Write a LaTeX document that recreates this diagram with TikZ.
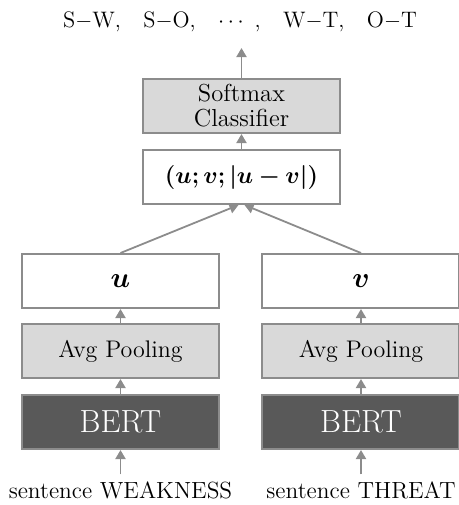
\documentclass[tikz,border=0pt]{standalone}
\usepackage{amsmath,bm}
\usetikzlibrary{arrows.meta, positioning}
\definecolor{edgegray}{RGB}{140,140,140}
\definecolor{poolgray}{RGB}{217,217,217}
\definecolor{bertgray}{RGB}{89,89,89}

\begin{document}
\begin{tikzpicture}[
  x=0.5pt, y=-0.5pt,
  box/.style={draw=edgegray, line width=1pt, minimum width=98.5pt, minimum height=27pt, align=center, inner sep=0pt},
  arrow/.style={-{Triangle[length=4.5pt, width=5pt]}, draw=edgegray, line width=0.9pt},
  label/.style={font=\fontsize{11.7}{14}\selectfont}
]
\useasboundingbox (0,0) rectangle (459,505);

% Classifier head
\node[box, fill=poolgray, font=\fontsize{12.3}{12.5}\selectfont] (softmax) at (241.5,106) {Softmax\\Classifier};
\node[box, fill=white, below=7.5pt of softmax, font=\fontsize{12.6}{15}\selectfont] (concat) {$\bm{(u;v;|u-v|)}$};
\node[label, font=\fontsize{11.2}{14}\selectfont] (pairs) at (240,22) {S$-$W,\quad S$-$O,\quad $\cdots$ ,\quad W$-$T,\quad O$-$T};

% Left branch (WEAKNESS)
\node[box, fill=white, font=\fontsize{13.5}{15}\selectfont] (uvec) at (120.5,281) {$\bm{u}$};
\node[box, fill=poolgray, below=7pt of uvec, font=\fontsize{12}{14}\selectfont] (lpool) {Avg Pooling};
\node[box, fill=bertgray, text=white, below=7.5pt of lpool, font=\fontsize{16}{18}\selectfont] (lbert) {BERT};
\node[label] (lsent) at (120.5,490) {sentence WEAKNESS};

% Right branch (THREAT)
\node[box, fill=white, font=\fontsize{13.5}{15}\selectfont] (vvec) at (361,281) {$\bm{v}$};
\node[box, fill=poolgray, below=7pt of vvec, font=\fontsize{12}{14}\selectfont] (rpool) {Avg Pooling};
\node[box, fill=bertgray, text=white, below=7.5pt of rpool, font=\fontsize{16}{18}\selectfont] (rbert) {BERT};
\node[label] (rsent) at (361,490) {sentence THREAT};

% Arrows
\coordinate (top) at (241.5,48);
\draw[arrow] (softmax.north) -- (top);
\draw[arrow] (concat) -- (softmax);
\draw[arrow] (uvec.north) -- ([xshift=-1.5pt]concat.south);
\draw[arrow] (vvec.north) -- ([xshift=1.5pt]concat.south);
\draw[arrow] (lpool) -- (uvec);
\draw[arrow] (rpool) -- (vvec);
\draw[arrow] (lbert) -- (lpool);
\draw[arrow] (rbert) -- (rpool);
\draw[arrow] (lsent.north) -- (lbert.south);
\draw[arrow] (rsent.north) -- (rbert.south);
\end{tikzpicture}
\end{document}
